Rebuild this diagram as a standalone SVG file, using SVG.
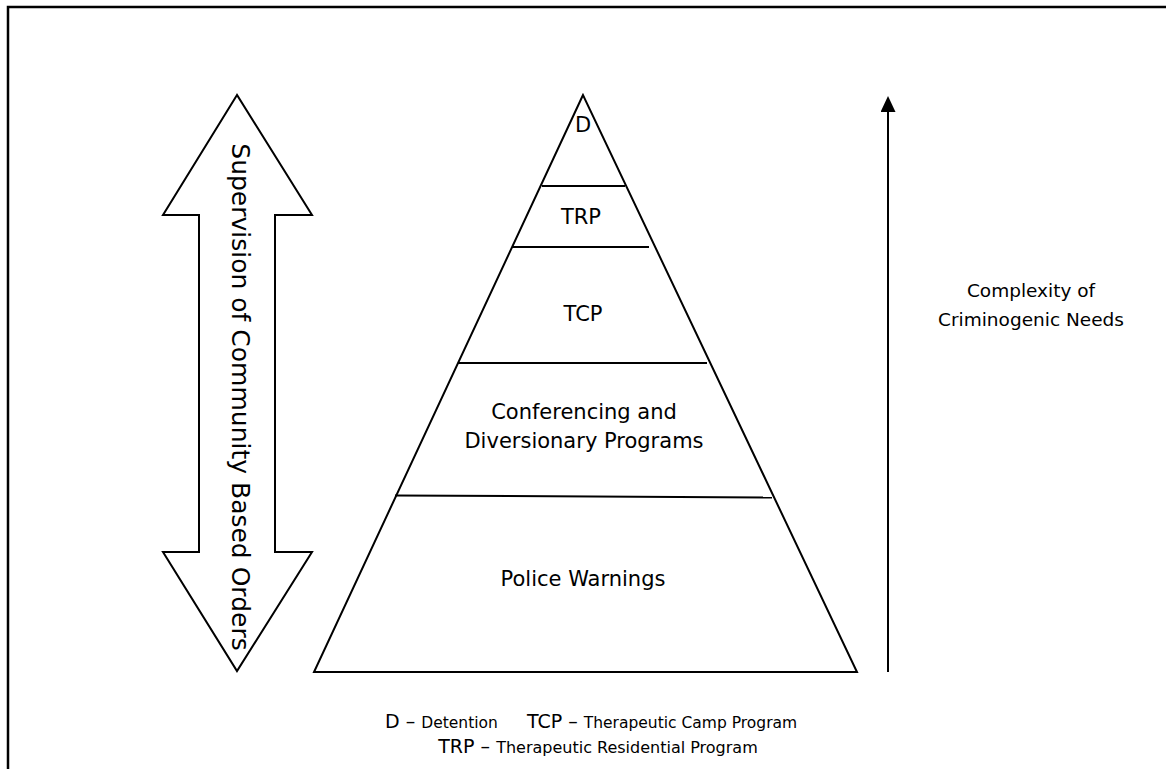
<svg xmlns="http://www.w3.org/2000/svg" width="1166" height="769" viewBox="0 0 1166 769">
<defs>
<style>
.t{font-family:"DejaVu Sans","Liberation Sans",sans-serif;fill:#000;text-anchor:middle}
.s{font-family:"DejaVu Sans","Liberation Sans",sans-serif;fill:#000;text-anchor:start}
.ln{stroke:#000;stroke-width:2;fill:none}
</style>
<marker id="ah" markerWidth="16" markerHeight="15" refX="0" refY="7.5" orient="auto" markerUnits="userSpaceOnUse" viewBox="0 0 16 15">
<path d="M0,0 L16,7.5 L0,15 Z" fill="#000"/>
</marker>
</defs>
<rect width="1166" height="769" fill="#fff"/>
<path d="M8,769 V7 H1166" stroke="#000" stroke-width="2.5" fill="none"/>
<g id="supervision">
<path d="M237,95 L163,215 L199,215 L199,552 L163,552 L237,671 L312,552 L275,552 L275,215 L312,215 Z" fill="#fff" stroke="#000" stroke-width="2"/>
<text class="t" font-size="25" transform="translate(240,397) rotate(90)" dominant-baseline="central">Supervision of Community Based Orders</text>
</g>
<g id="pyramid">
<path d="M583,95 L314,672 L857,672 Z" fill="#fff" stroke="#000" stroke-width="2" stroke-linejoin="miter"/>
</g>
<g id="connectors">
<line class="ln" x1="542" y1="186" x2="625" y2="186"/>
<line class="ln" x1="512" y1="247" x2="649" y2="247"/>
<line class="ln" x1="458" y1="363" x2="707" y2="363"/>
<line class="ln" x1="395" y1="495.5" x2="772" y2="497.5"/>
<line class="ln" x1="888" y1="672" x2="888" y2="112" marker-end="url(#ah)"/>
</g>
<g id="level-d"><text class="t" x="583" y="132" font-size="21">D</text></g>
<g id="level-trp"><text class="t" x="581" y="224" font-size="21">TRP</text></g>
<g id="level-tcp"><text class="t" x="583" y="321" font-size="21">TCP</text></g>
<g id="level-conf"><text class="t" x="584" y="419" font-size="21">Conferencing and</text><text class="t" x="584" y="448" font-size="21">Diversionary Programs</text></g>
<g id="level-police"><text class="t" x="583" y="586" font-size="21">Police Warnings</text></g>
<g id="complexity"><text class="t" x="1031" y="297" font-size="18.5">Complexity of</text><text class="t" x="1031" y="326" font-size="18.5">Criminogenic Needs</text></g>
<g id="legend">
<text class="s" x="385" y="728" font-size="19">D – <tspan font-size="15.5">Detention</tspan></text>
<text class="s" x="527" y="728" font-size="19">TCP – <tspan font-size="15.5">Therapeutic Camp Program</tspan></text>
<text class="t" x="598" y="753" font-size="19">TRP – <tspan font-size="16">Therapeutic Residential Program</tspan></text>
</g>
</svg>
